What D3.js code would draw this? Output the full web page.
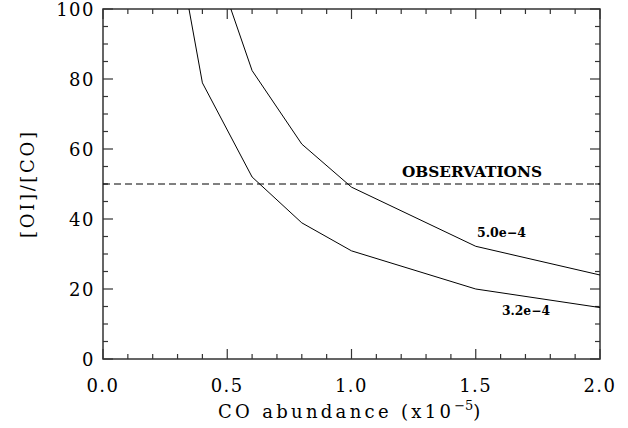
<!DOCTYPE html>
<html><head><meta charset="utf-8">
<script src="https://cdn.jsdelivr.net/npm/d3@7"></script>
<style>body{margin:0;background:#fff}svg{display:block}</style>
</head><body>
<script>
// Data
const xTicks = [0.0, 0.5, 1.0, 1.5, 2.0];
const yTicks = [0, 20, 40, 60, 80, 100];
const coAbund = [0.3, 0.4, 0.6, 0.8, 1.0, 1.5, 2.0];
const ratioLow = [118, 78.9, 52, 38.9, 30.9, 20.0, 14.7];   // 3.2e-4
const coAbundHigh = [0.5, 0.6, 0.8, 1.0, 1.5, 2.0];
const ratioHigh = [103, 82.4, 61.4, 49.1, 32.2, 24.0];      // 5.0e-4
const observation = 50;
const curveLabels = ["5.0e-4", "3.2e-4"];

const W = 628, H = 428;
const m = {l: 103, r: 600, t: 9, b: 359};
const svg = d3.select("body").append("svg").attr("width", W).attr("height", H);
const x = d3.scaleLinear().domain([0, 2]).range([m.l, m.r]);
const y = d3.scaleLinear().domain([0, 100]).range([m.b, m.t]);
const font = "DejaVu Serif";
const axCol = "#333";

svg.append("clipPath").attr("id", "clip").append("rect")
  .attr("x", m.l).attr("y", m.t).attr("width", m.r - m.l).attr("height", m.b - m.t);

// frame
svg.append("rect").attr("x", m.l).attr("y", m.t).attr("width", m.r - m.l).attr("height", m.b - m.t)
  .attr("fill", "none").attr("stroke", axCol).attr("stroke-width", 1.5);

const minorX = d3.range(0, 2.0001, 0.1);
const minorY = d3.range(0, 100.001, 5);
const g = svg.append("g").attr("stroke", axCol).attr("stroke-width", 1.2);
minorX.forEach(v => {
  const major = xTicks.some(t => Math.abs(t - v) < 1e-6);
  const len = major ? 10 : 5;
  g.append("line").attr("x1", x(v)).attr("x2", x(v)).attr("y1", m.b).attr("y2", m.b - len);
  g.append("line").attr("x1", x(v)).attr("x2", x(v)).attr("y1", m.t).attr("y2", m.t + len);
});
minorY.forEach(v => {
  const major = yTicks.some(t => Math.abs(t - v) < 1e-6);
  const len = major ? 10 : 5;
  g.append("line").attr("y1", y(v)).attr("y2", y(v)).attr("x1", m.l).attr("x2", m.l + len);
  g.append("line").attr("y1", y(v)).attr("y2", y(v)).attr("x1", m.r).attr("x2", m.r - len);
});

// tick labels
svg.append("g").selectAll("text").data(xTicks).join("text")
  .attr("x", d => x(d)).attr("y", 392).attr("text-anchor", "middle")
  .attr("font-family", font).attr("font-size", 18).attr("letter-spacing", 1.5)
  .text(d => d.toFixed(1));
svg.append("g").selectAll("text").data(yTicks).join("text")
  .attr("x", 95).attr("y", d => y(d) + 7).attr("text-anchor", "end")
  .attr("font-family", font).attr("font-size", 18).attr("letter-spacing", 1.5)
  .text(d => d);

// axis titles
const xt = svg.append("text").attr("x", 218).attr("y", 418)
  .attr("font-family", font).attr("font-size", 18).attr("letter-spacing", 3.3);
xt.append("tspan").text("CO abundance (x10");
xt.append("tspan").attr("dy", -8).attr("font-size", 13).attr("letter-spacing", 0).text("−5");
xt.append("tspan").attr("dy", 8).text(")");

svg.append("text").attr("transform", "translate(34,185) rotate(-90)")
  .attr("text-anchor", "middle").attr("font-family", font).attr("font-size", 18)
  .attr("textLength", 106).attr("lengthAdjust", "spacing").text("[OI]/[CO]");

// curves
const line = d3.line().x(d => x(d[0])).y(d => y(d[1]));
const cg = svg.append("g").attr("clip-path", "url(#clip)");
cg.append("path").datum(coAbund.map((v, i) => [v, ratioLow[i]])).attr("d", line)
  .attr("fill", "none").attr("stroke", "#000").attr("stroke-width", 1);
cg.append("path").datum(coAbundHigh.map((v, i) => [v, ratioHigh[i]])).attr("d", line)
  .attr("fill", "none").attr("stroke", "#000").attr("stroke-width", 1);
cg.append("line").attr("x1", x(0)).attr("x2", x(2)).attr("y1", y(observation)).attr("y2", y(observation))
  .attr("stroke", "#000").attr("stroke-width", 1).attr("stroke-dasharray", "7,4");

// labels
svg.append("text").attr("x", 402).attr("y", 177).attr("font-family", font).attr("font-weight", "bold")
  .attr("font-size", 15).attr("textLength", 140).attr("lengthAdjust", "spacingAndGlyphs").text("OBSERVATIONS");
svg.append("text").attr("x", 477).attr("y", 237).attr("font-family", font).attr("font-weight", "bold")
  .attr("font-size", 12).attr("textLength", 49).attr("lengthAdjust", "spacingAndGlyphs").text(curveLabels[0].replace("-", "−"));
svg.append("text").attr("x", 502).attr("y", 315).attr("font-family", font).attr("font-weight", "bold")
  .attr("font-size", 12).attr("textLength", 48).attr("lengthAdjust", "spacingAndGlyphs").text(curveLabels[1].replace("-", "−"));
</script>
</body></html>
